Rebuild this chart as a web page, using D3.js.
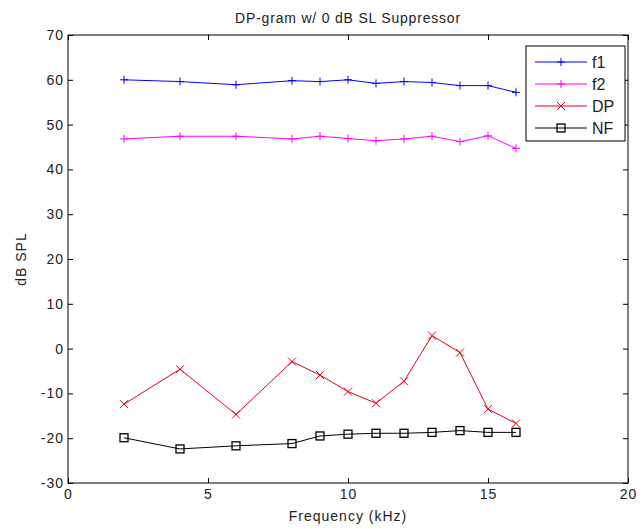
<!DOCTYPE html>
<html>
<head>
<meta charset="utf-8">
<script src="https://cdn.jsdelivr.net/npm/d3@7"></script>
<style>
  body { margin: 0; background: #fff; }
  text { font-family: "Liberation Sans", Arial, sans-serif; }
</style>
</head>
<body>
<div id="chart"></div>
<script>
// data
var freq = [2, 4, 6, 8, 9, 10, 11, 12, 13, 14, 15, 16];
var f1 = [60, 59.6, 58.9, 59.8, 59.6, 60, 59.2, 59.6, 59.4, 58.7, 58.7, 57.2];
var f2 = [46.8, 47.4, 47.4, 46.8, 47.4, 46.9, 46.4, 46.8, 47.4, 46.2, 47.5, 44.7];
var dp = [-12.4, -4.6, -14.7, -2.9, -5.9, -9.6, -12.2, -7.3, 2.9, -0.9, -13.5, -16.7];
var nf = [-19.9, -22.4, -21.7, -21.2, -19.5, -19.1, -18.9, -18.9, -18.7, -18.3, -18.7, -18.7];
var xTicks = [0, 5, 10, 15, 20];
var yTicks = [-30, -20, -10, 0, 10, 20, 30, 40, 50, 60, 70];

var series = [
  { name: "f1", values: f1, color: "#0000ff", marker: "plus" },
  { name: "f2", values: f2, color: "#ff00ff", marker: "plus" },
  { name: "DP", values: dp, color: "#e0001b", marker: "cross" },
  { name: "NF", values: nf, color: "#000000", marker: "square" }
];

//-----------------------------------------------------------------------

var width = 641, height = 529;
var margin = { left: 68, right: 13, top: 35, bottom: 46 };
var textColor = "#222";
var fontSize = 14;
var spacing = "1px";

var svg = d3.select("#chart").append("svg")
  .attr("width", width)
  .attr("height", height);

var x = d3.scaleLinear().domain([0, 20]).range([margin.left, width - margin.right]);
var y = d3.scaleLinear().domain([-30, 70]).range([height - margin.bottom, margin.top]);

// plain hyphen like matlab, not unicode minus
var fmt = function (d) { return String(d); };

// axes, ticks pointing inward like matlab
var tickLen = 5;
var axBottom = svg.append("g")
  .attr("transform", "translate(0," + y(-30) + ")")
  .call(d3.axisBottom(x).tickValues(xTicks).tickFormat(fmt).tickSizeInner(-tickLen).tickSizeOuter(0).tickPadding(6));
var axTop = svg.append("g")
  .attr("transform", "translate(0," + y(70) + ")")
  .call(d3.axisTop(x).tickValues(xTicks).tickSizeInner(-tickLen).tickSizeOuter(0).tickFormat(""));
var axLeft = svg.append("g")
  .attr("transform", "translate(" + x(0) + ",0)")
  .call(d3.axisLeft(y).tickValues(yTicks).tickFormat(fmt).tickSizeInner(-tickLen).tickSizeOuter(0).tickPadding(4));
var axRight = svg.append("g")
  .attr("transform", "translate(" + x(20) + ",0)")
  .call(d3.axisRight(y).tickValues(yTicks).tickSizeInner(-tickLen).tickSizeOuter(0).tickFormat(""));

[axBottom, axTop, axLeft, axRight].forEach(function (g) {
  g.select(".domain").remove();
  g.selectAll("line").attr("stroke", "#000");
  g.selectAll("text").attr("font-size", fontSize).attr("fill", textColor)
    .attr("letter-spacing", spacing)
    .attr("font-family", "Liberation Sans, Arial, sans-serif");
});

// box around plot
svg.append("rect")
  .attr("x", x(0)).attr("y", y(70))
  .attr("width", x(20) - x(0)).attr("height", y(-30) - y(70))
  .attr("fill", "none").attr("stroke", "#000").attr("stroke-width", 1);

//-----------------------------------------------------------------------

function drawMarker(g, type, cx, cy, color) {
  var s = 4;
  if (type == "plus") {
    g.append("path").attr("d", "M" + (cx - s) + "," + cy + "H" + (cx + s) + "M" + cx + "," + (cy - s) + "V" + (cy + s))
      .attr("stroke", color).attr("fill", "none");
  } else if (type == "cross") {
    g.append("path").attr("d", "M" + (cx - s) + "," + (cy - s) + "L" + (cx + s) + "," + (cy + s) + "M" + (cx - s) + "," + (cy + s) + "L" + (cx + s) + "," + (cy - s))
      .attr("stroke", color).attr("fill", "none");
  } else {
    g.append("rect").attr("x", cx - s).attr("y", cy - s).attr("width", 2 * s).attr("height", 2 * s)
      .attr("stroke", color).attr("fill", "none").attr("stroke-width", 1.3);
  }
}

var line = d3.line()
  .x(function (d) { return x(d[0]); })
  .y(function (d) { return y(d[1]); });

series.forEach(function (s) {
  var pts = freq.map(function (f, i) { return [f, s.values[i]]; });
  var g = svg.append("g");
  g.append("path").datum(pts).attr("d", line)
    .attr("fill", "none").attr("stroke", s.color).attr("stroke-width", 1);
  pts.forEach(function (p) { drawMarker(g, s.marker, x(p[0]), y(p[1]), s.color); });
});

//-----------------------------------------------------------------------

// legend
var lg = svg.append("g");
lg.append("rect")
  .attr("x", 526).attr("y", 46).attr("width", 99).attr("height", 95)
  .attr("fill", "#fff").attr("stroke", "#000");
series.forEach(function (s, i) {
  var ly = 62 + i * 22;
  lg.append("line").attr("x1", 535).attr("x2", 587).attr("y1", ly).attr("y2", ly)
    .attr("stroke", s.color);
  drawMarker(lg, s.marker, 561, ly, s.color);
  lg.append("text").attr("x", 592).attr("y", ly + 6)
    .attr("font-size", 16).attr("fill", textColor).text(s.name);
});

// title and axis labels
svg.append("text").attr("x", (x(0) + x(20)) / 2).attr("y", 23)
  .attr("text-anchor", "middle").attr("font-size", fontSize).attr("fill", textColor)
  .attr("letter-spacing", "0.8px")
  .text("DP-gram w/ 0 dB SL Suppressor");
svg.append("text").attr("x", (x(0) + x(20)) / 2).attr("y", 521)
  .attr("text-anchor", "middle").attr("font-size", fontSize).attr("fill", textColor)
  .attr("letter-spacing", spacing)
  .text("Frequency (kHz)");
svg.append("text")
  .attr("transform", "translate(26," + ((y(70) + y(-30)) / 2) + ") rotate(-90)")
  .attr("text-anchor", "middle").attr("font-size", fontSize).attr("fill", textColor)
  .attr("letter-spacing", spacing)
  .text("dB SPL");
</script>
</body>
</html>
